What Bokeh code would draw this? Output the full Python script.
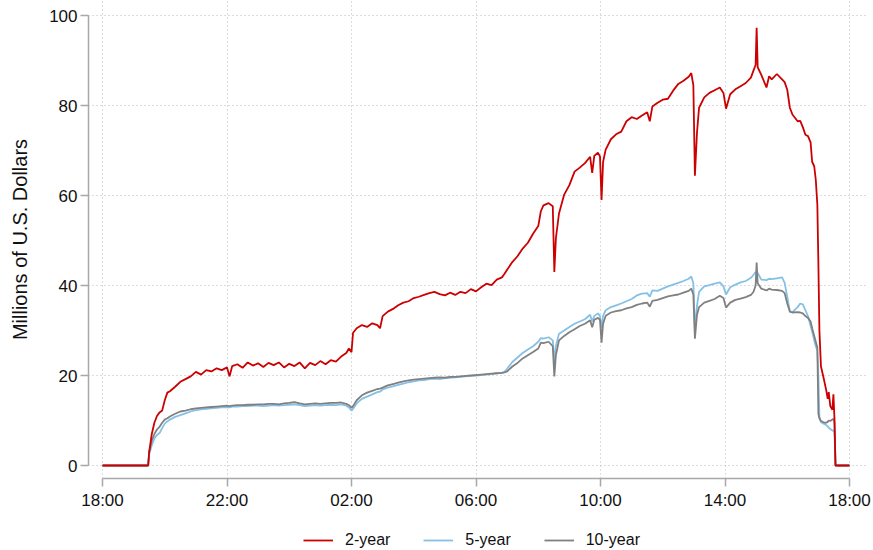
from bokeh.plotting import figure
from bokeh.layouts import column
from bokeh.models import FixedTicker, Legend, LegendItem, Range1d, ColumnDataSource
from bokeh.embed import file_html
from bokeh.resources import INLINE

# minutes after 18:00 (one trading day, 18:00 -> 18:00)
minutes = [0, 60, 88, 90, 95, 100, 105, 110, 115, 120, 125, 130, 140, 150, 160, 170, 180, 190, 200, 210,
           220, 230, 240, 245, 250, 260, 270, 280, 290, 300, 310, 320, 330, 340, 350, 360, 370, 380, 390, 400,
           410, 420, 430, 440, 450, 460, 470, 475, 480, 483, 490, 500, 510, 520, 530, 535, 540, 550, 560, 570,
           580, 590, 600, 610, 620, 630, 640, 650, 660, 670, 680, 690, 700, 710, 720, 730, 740, 750, 760, 770,
           775, 780, 790, 800, 810, 820, 830, 840, 845, 850, 860, 868, 871, 874, 880, 890, 900, 910, 920, 930,
           940, 944, 948, 955, 959, 962, 965, 970, 980, 990, 1000, 1010, 1020, 1030, 1040, 1050, 1055, 1060, 1070, 1080,
           1090, 1100, 1110, 1120, 1130, 1135, 1139, 1142, 1146, 1150, 1160, 1170, 1180, 1190, 1197, 1202, 1210, 1220, 1230, 1240,
           1250, 1255, 1259, 1261, 1263, 1270, 1280, 1285, 1290, 1300, 1310, 1315, 1320, 1325, 1330, 1340, 1345, 1350, 1355, 1360,
           1365, 1368, 1372, 1375, 1378, 1380, 1382, 1385, 1390, 1395, 1398, 1400, 1403, 1407, 1409, 1411, 1413, 1440]

two_year = [0, 0, 0, 3, 7, 9.5, 11, 11.8, 12.2, 14.5, 16.2, 16.5, 17.5, 18.6, 19.2, 19.8, 20.8, 20.2, 21.2, 20.9,
            21.6, 21.2, 21.8, 19.8, 22.1, 22.5, 21.7, 22.9, 22.2, 22.7, 21.9, 22.8, 22.3, 22.9, 21.8, 22.6, 22.1, 22.9, 21.6, 22.8,
            22.3, 23.2, 22.5, 23.4, 23.1, 24.2, 25, 26, 25.2, 29.5, 30.5, 31.2, 30.8, 31.6, 31.2, 30.5, 33.2, 34.2, 34.8, 35.6,
            36.2, 36.5, 37.2, 37.5, 37.9, 38.3, 38.6, 38.1, 37.8, 38.4, 37.9, 38.6, 38.3, 39.2, 38.7, 39.6, 40.4, 40.1, 41.3, 41.8,
            42.6, 43.5, 45.2, 46.5, 48.2, 49.5, 51.5, 53.2, 56.5, 57.8, 58.3, 57.6, 43, 50.5, 56, 60.2, 62.3, 65.3, 66.2, 67.2,
            68.6, 65, 68.8, 69.5, 68.7, 59, 67.5, 70.2, 72.5, 73.6, 74.2, 76.5, 77.4, 77, 77.8, 78.5, 76.5, 79.8, 80.6, 81.3,
            81.5, 83.3, 84.8, 85.5, 86.4, 87.2, 84.5, 64.4, 74, 79.5, 81.8, 82.8, 83.4, 84, 82.8, 79.3, 82.5, 83.6, 84.3, 85,
            86.2, 87.8, 89, 97.3, 88.5, 86.8, 84, 86.5, 85.8, 87, 85.8, 85.2, 83.5, 79.5, 78, 76.5, 76.6, 75.2, 73.5, 73.2,
            71.8, 67.5, 66.5, 63.5, 58, 45, 30, 22, 19.5, 16.8, 14.8, 16.3, 13.2, 12.4, 15.8, 10.5, 0, 0]

five_year = [0, 0, 0, 2.5, 4.5, 6, 6.8, 7.2, 8.3, 9.3, 9.8, 10.2, 10.8, 11.2, 11.6, 12, 12.3, 12.5, 12.6, 12.7,
             12.8, 12.9, 13, 12.9, 13.1, 13.1, 13.2, 13.2, 13.3, 13.3, 13.2, 13.3, 13.4, 13.3, 13.4, 13.5, 13.6, 13.4, 13.2, 13.3,
             13.4, 13.3, 13.4, 13.5, 13.4, 13.6, 13.3, 12.9, 12.2, 12.6, 13.8, 14.8, 15.3, 15.8, 16.3, 16.4, 16.9, 17.3, 17.6, 17.9,
             18.2, 18.5, 18.7, 18.9, 19, 19.2, 19.3, 19.2, 19.4, 19.5, 19.6, 19.7, 19.8, 19.9, 20, 20.1, 20.2, 20.3, 20.5, 20.6,
             20.8, 21.5, 23, 24, 25, 25.8, 26.5, 27.5, 28.3, 28.2, 28.5, 27.8, 23, 26.5, 29.3, 30, 30.8, 31.5, 32, 32.5,
             33.5, 32, 33.2, 33.8, 33.2, 30.5, 33.3, 34.5, 35.2, 35.6, 36, 36.5, 37, 37.8, 38.2, 38.3, 37.5, 38.9, 38.8, 39.3,
             39.8, 40.2, 40.6, 41, 41.5, 42, 40.5, 30, 35.5, 38.6, 39.8, 40.1, 40.4, 40.7, 39.8, 38, 39.6, 40.2, 40.7, 41,
             41.7, 42.4, 43, 42.6, 42.8, 41.3, 41.2, 41.5, 41.4, 41.6, 41.8, 40.6, 37.5, 34.2, 34.1, 35.2, 36, 35.8, 34.5, 33.2,
             31, 29.8, 27.8, 26.5, 25.5, 20, 10.8, 9.6, 9.3, 9, 8.7, 8.4, 8.1, 7.8, 7.7, 7.5, 0, 0]

ten_year = [0, 0, 0, 3, 5.5, 7, 8, 8.6, 9.5, 10.2, 10.5, 10.9, 11.5, 12, 12.2, 12.5, 12.7, 12.8, 12.9, 13,
            13.1, 13.2, 13.3, 13.2, 13.3, 13.4, 13.4, 13.5, 13.5, 13.6, 13.6, 13.7, 13.7, 13.6, 13.8, 13.9, 14.1, 13.8, 13.6, 13.7,
            13.8, 13.7, 13.8, 13.9, 13.9, 14, 13.7, 13.4, 12.8, 13.2, 14.5, 15.6, 16.2, 16.6, 17, 17.1, 17.3, 17.8, 18.1, 18.4,
            18.7, 18.9, 19.1, 19.2, 19.3, 19.4, 19.5, 19.6, 19.5, 19.7, 19.7, 19.8, 19.9, 20, 20.1, 20.2, 20.3, 20.4, 20.5, 20.6,
            20.7, 20.9, 22, 22.8, 23.8, 24.5, 25.2, 26, 27.3, 27.2, 27.5, 26.5, 19.8, 24.5, 27.8, 28.8, 29.6, 30.3, 31, 31.5,
            32.3, 30.7, 32.4, 32.8, 32.4, 27.3, 31.5, 33.3, 34, 34.3, 34.5, 34.9, 35.2, 35.7, 36, 36.2, 35.3, 36.6, 36.8, 37.2,
            37.6, 37.8, 38, 38.4, 38.8, 39.3, 38, 28.2, 33.5, 35.2, 36.2, 36.6, 37, 37.7, 37.2, 35.1, 36.2, 36.8, 37.1, 37.4,
            37.9, 38.6, 40, 45.1, 40.5, 39.3, 38.9, 39.3, 39.1, 39, 38.8, 38.3, 36, 34.2, 34, 34.1, 34, 33.8, 33.2, 32.8,
            32, 30.5, 28.8, 27.5, 26.2, 11.5, 10.5, 9.9, 9.6, 9.5, 9.7, 10, 9.9, 10.2, 10.4, 9.6, 0, 0]

x_tick_hours = [0, 4, 8, 12, 16, 20, 24]
x_tick_labels = ["18:00", "22:00", "02:00", "06:00", "10:00", "14:00", "18:00"]
y_ticks = [0, 20, 40, 60, 80, 100]
series_labels = ["2-year", "5-year", "10-year"]
series_colors = ["#cc0000", "#85c1e6", "#808080"]

FONT = "Liberation Sans"
W = 872

hours = [m / 60.0 for m in minutes]
src = ColumnDataSource(dict(x=hours, two=two_year, five=five_year, ten=ten_year))

# ---------------- main chart ----------------
p = figure(width=W, height=512, output_backend="svg", toolbar_location=None,
           x_range=Range1d(-14 / 31.125, 24 + 18 / 31.125),
           y_range=Range1d(-13 / 4.5, 100 + 15 / 4.5),
           min_border_left=88, min_border_right=5, min_border_top=0, min_border_bottom=34)
p.outline_line_color = None
p.background_fill_color = "white"

r5 = p.line("x", "five", source=src, line_color=series_colors[1], line_width=1.8)
r10 = p.line("x", "ten", source=src, line_color=series_colors[2], line_width=1.8)
r2 = p.line("x", "two", source=src, line_color=series_colors[0], line_width=1.8)

xt = FixedTicker(ticks=x_tick_hours, minor_ticks=[])
yt = FixedTicker(ticks=y_ticks, minor_ticks=[])

xa = p.xaxis[0]
xa.ticker = xt
xa.major_label_overrides = {h: lab for h, lab in zip(x_tick_hours, x_tick_labels)}
xa.bounds = (0, 24)

ya = p.yaxis[0]
ya.ticker = yt
ya.major_label_overrides = {v: str(v) for v in y_ticks}
ya.bounds = (0, 100)
ya.axis_label = "Millions of U.S. Dollars"
ya.axis_label_text_font = FONT
ya.axis_label_text_font_size = "20px"
ya.axis_label_text_font_style = "normal"
ya.axis_label_text_color = "#111111"
ya.axis_label_standoff = 15

for ax in (xa, ya):
    ax.axis_line_color = "#a8a8a8"
    ax.axis_line_width = 1.5
    ax.major_tick_line_color = "#a8a8a8"
    ax.major_tick_line_width = 1.5
    ax.major_tick_in = 0
    ax.major_tick_out = 8
    ax.minor_tick_line_color = None
    ax.major_label_text_font = FONT
    ax.major_label_text_font_size = "17px"
    ax.major_label_text_color = "#111111"
xa.major_label_standoff = 4
ya.major_label_standoff = 3

for g, t in ((p.xgrid[0], xt), (p.ygrid[0], yt)):
    g.ticker = t
    g.grid_line_color = "#b8b8b8"
    g.grid_line_dash = "1 3"
    g.grid_line_width = 1

# ---------------- legend strip ----------------
# the same series drawn far outside the visible range, only to carry the legend
lg = figure(width=W, height=38, output_backend="svg", toolbar_location=None,
            x_range=Range1d(0, 1), y_range=Range1d(1000, 1001),
            x_axis_type=None, y_axis_type=None,
            min_border_left=0, min_border_right=0, min_border_top=0, min_border_bottom=0)
lg.outline_line_color = None
lg.xgrid.visible = False
lg.ygrid.visible = False
l2 = lg.line("x", "two", source=src, line_color=series_colors[0], line_width=1.8)
l5 = lg.line("x", "five", source=src, line_color=series_colors[1], line_width=1.8)
l10 = lg.line("x", "ten", source=src, line_color=series_colors[2], line_width=1.8)

legend = Legend(items=[LegendItem(label=series_labels[0], renderers=[l2]),
                       LegendItem(label=series_labels[1], renderers=[l5]),
                       LegendItem(label=series_labels[2], renderers=[l10])],
                orientation="horizontal", location=(215, 1),
                border_line_color=None, background_fill_alpha=0,
                padding=0, margin=0, spacing=33, glyph_width=30, glyph_height=18,
                label_standoff=12, label_text_font=FONT, label_text_font_size="16px",
                label_text_color="#111111", label_height=18)
lg.add_layout(legend)

open("out.html", "w").write(file_html(column(p, lg), INLINE))
